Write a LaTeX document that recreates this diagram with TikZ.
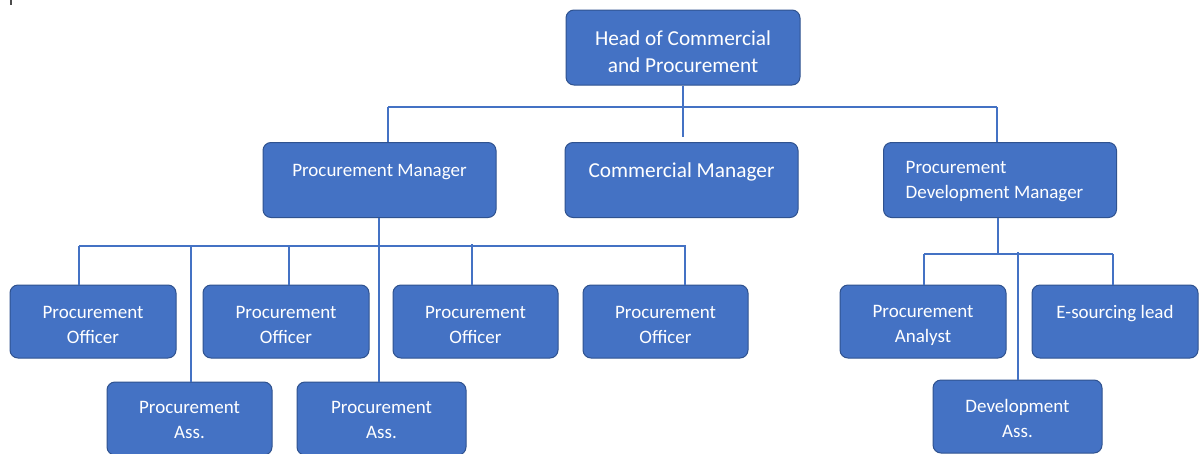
\documentclass[tikz,border=0pt]{standalone}
\usepackage{fontspec}
\setmainfont{Carlito}
\definecolor{boxfill}{HTML}{4472C4}
\definecolor{boxedge}{HTML}{2F528F}
\definecolor{wire}{HTML}{4472C4}
\begin{document}
\begin{tikzpicture}[x=1pt,y=-1pt,
  unit/.style={draw=boxedge, line width=1pt, fill=boxfill, rounded corners=8pt,
    inner sep=0pt, minimum width=166pt, minimum height=73pt},
  bigunit/.style={unit, minimum width=234pt, minimum height=75pt},
  midunit/.style={unit, minimum width=233pt, minimum height=75pt},
  caption/.style={text=white, align=center, inner sep=0pt,
    font=\fontsize{19}{25}\selectfont},
  bigcaption/.style={caption, font=\fontsize{21.3}{26.7}\selectfont},
  wire/.style={draw=wire, line width=1.5pt}]
\useasboundingbox (0,0) rectangle (1202,453);
\clip (0,0) rectangle (1202,453);
\fill[white] (0,0) rectangle (1202,453);
\fill[black!70] (10,0) rectangle (11.5,4.5);

% top level
\node[bigunit] (head) at (683,47.5) {};
\node[bigcaption, yshift=-4pt] (head-t) at (head) {Head of Commercial\\and Procurement};

% managers
\node[midunit] (pm) at (379.5,180) {};
\node[caption, yshift=8pt] (pm-t) at (pm) {Procurement Manager};
\node[midunit] (cm) at (681.5,180) {};
\node[bigcaption, yshift=8.5pt] (cm-t) at (cm) {Commercial Manager};
\node[midunit] (pdm) at (1000,180) {};
\node[caption, align=left, anchor=west, yshift=-1.5pt] (pdm-t) at ([xshift=22.5pt]pdm.west) {Procurement\\Development Manager};

% procurement team
\node[unit] (off1) at (93,321.5) {};
\node[caption, yshift=-3pt] (off1-t) at (off1) {Procurement\\Officer};
\node[unit] (off2) at (286,321.5) {};
\node[caption, yshift=-3pt] (off2-t) at (off2) {Procurement\\Officer};
\node[unit, minimum width=165pt] (off3) at (475.5,321.5) {};
\node[caption, yshift=-3pt] (off3-t) at (off3) {Procurement\\Officer};
\node[unit, minimum width=165pt] (off4) at (665.5,321.5) {};
\node[caption, yshift=-3pt] (off4-t) at (off4) {Procurement\\Officer};
\node[unit, minimum width=165pt] (ass1) at (189.5,418.5) {};
\node[caption, yshift=-1.5pt] (ass1-t) at (ass1) {Procurement\\Ass.};
\node[unit, minimum width=169pt] (ass2) at (381.5,418.5) {};
\node[caption, yshift=-1.5pt] (ass2-t) at (ass2) {Procurement\\Ass.};

% development team
\node[unit] (an) at (923,321.5) {};
\node[caption, yshift=-3.5pt] (an-t) at (an) {Procurement\\Analyst};
\node[unit] (es) at (1115,321.5) {};
\node[caption, yshift=8pt] (es-t) at (es) {E-sourcing lead};
\node[unit, minimum width=169pt] (dev) at (1017.5,416.5) {};
\node[caption, yshift=-2pt] (dev-t) at (dev) {Development\\Ass.};

% first bus
\coordinate (t1) at (388,107);
\coordinate (t2) at (997,107);
\draw[wire] (t1) -- (t2);
\draw[wire, shorten >=5pt] (head.south) -- (cm.north -| head.south);
\draw[wire] (t1) -- (pm.north -| t1);
\draw[wire] (t2) -- (pdm.north -| t2);

% procurement bus
\coordinate (b1) at (79,246);
\coordinate (b2) at (191,246);
\coordinate (b3) at (289,246);
\coordinate (b4) at (472,246);
\coordinate (b5) at (685,246);
\coordinate (b6) at (686,246);
\coordinate (pmdrop) at (379,218);
\draw[wire] (b1) -- (b6);
\draw[wire] (pmdrop) -- (pmdrop |- ass2.north);
\draw[wire] (b1) -- (off1.north -| b1);
\draw[wire] (b2) -- (ass1.north -| b2);
\draw[wire] (b3) -- (off2.north -| b3);
\draw[wire] ([yshift=2pt]b4) -- (off3.north -| b4);
\draw[wire] (b5) -- (off4.north -| b5);

% development bus
\coordinate (r1) at (924,254);
\coordinate (r2) at (1018,254);
\coordinate (r3) at (1113,254);
\coordinate (pdmdrop) at (998,218);
\draw[wire] (r1) -- (r3);
\draw[wire] (pdmdrop) -- (pdmdrop |- r1);
\draw[wire] (r1) -- (an.north -| r1);
\draw[wire] ([yshift=2pt]r2) -- (dev.north -| r2);
\draw[wire] (r3) -- (es.north -| r3);
\end{tikzpicture}
\end{document}
